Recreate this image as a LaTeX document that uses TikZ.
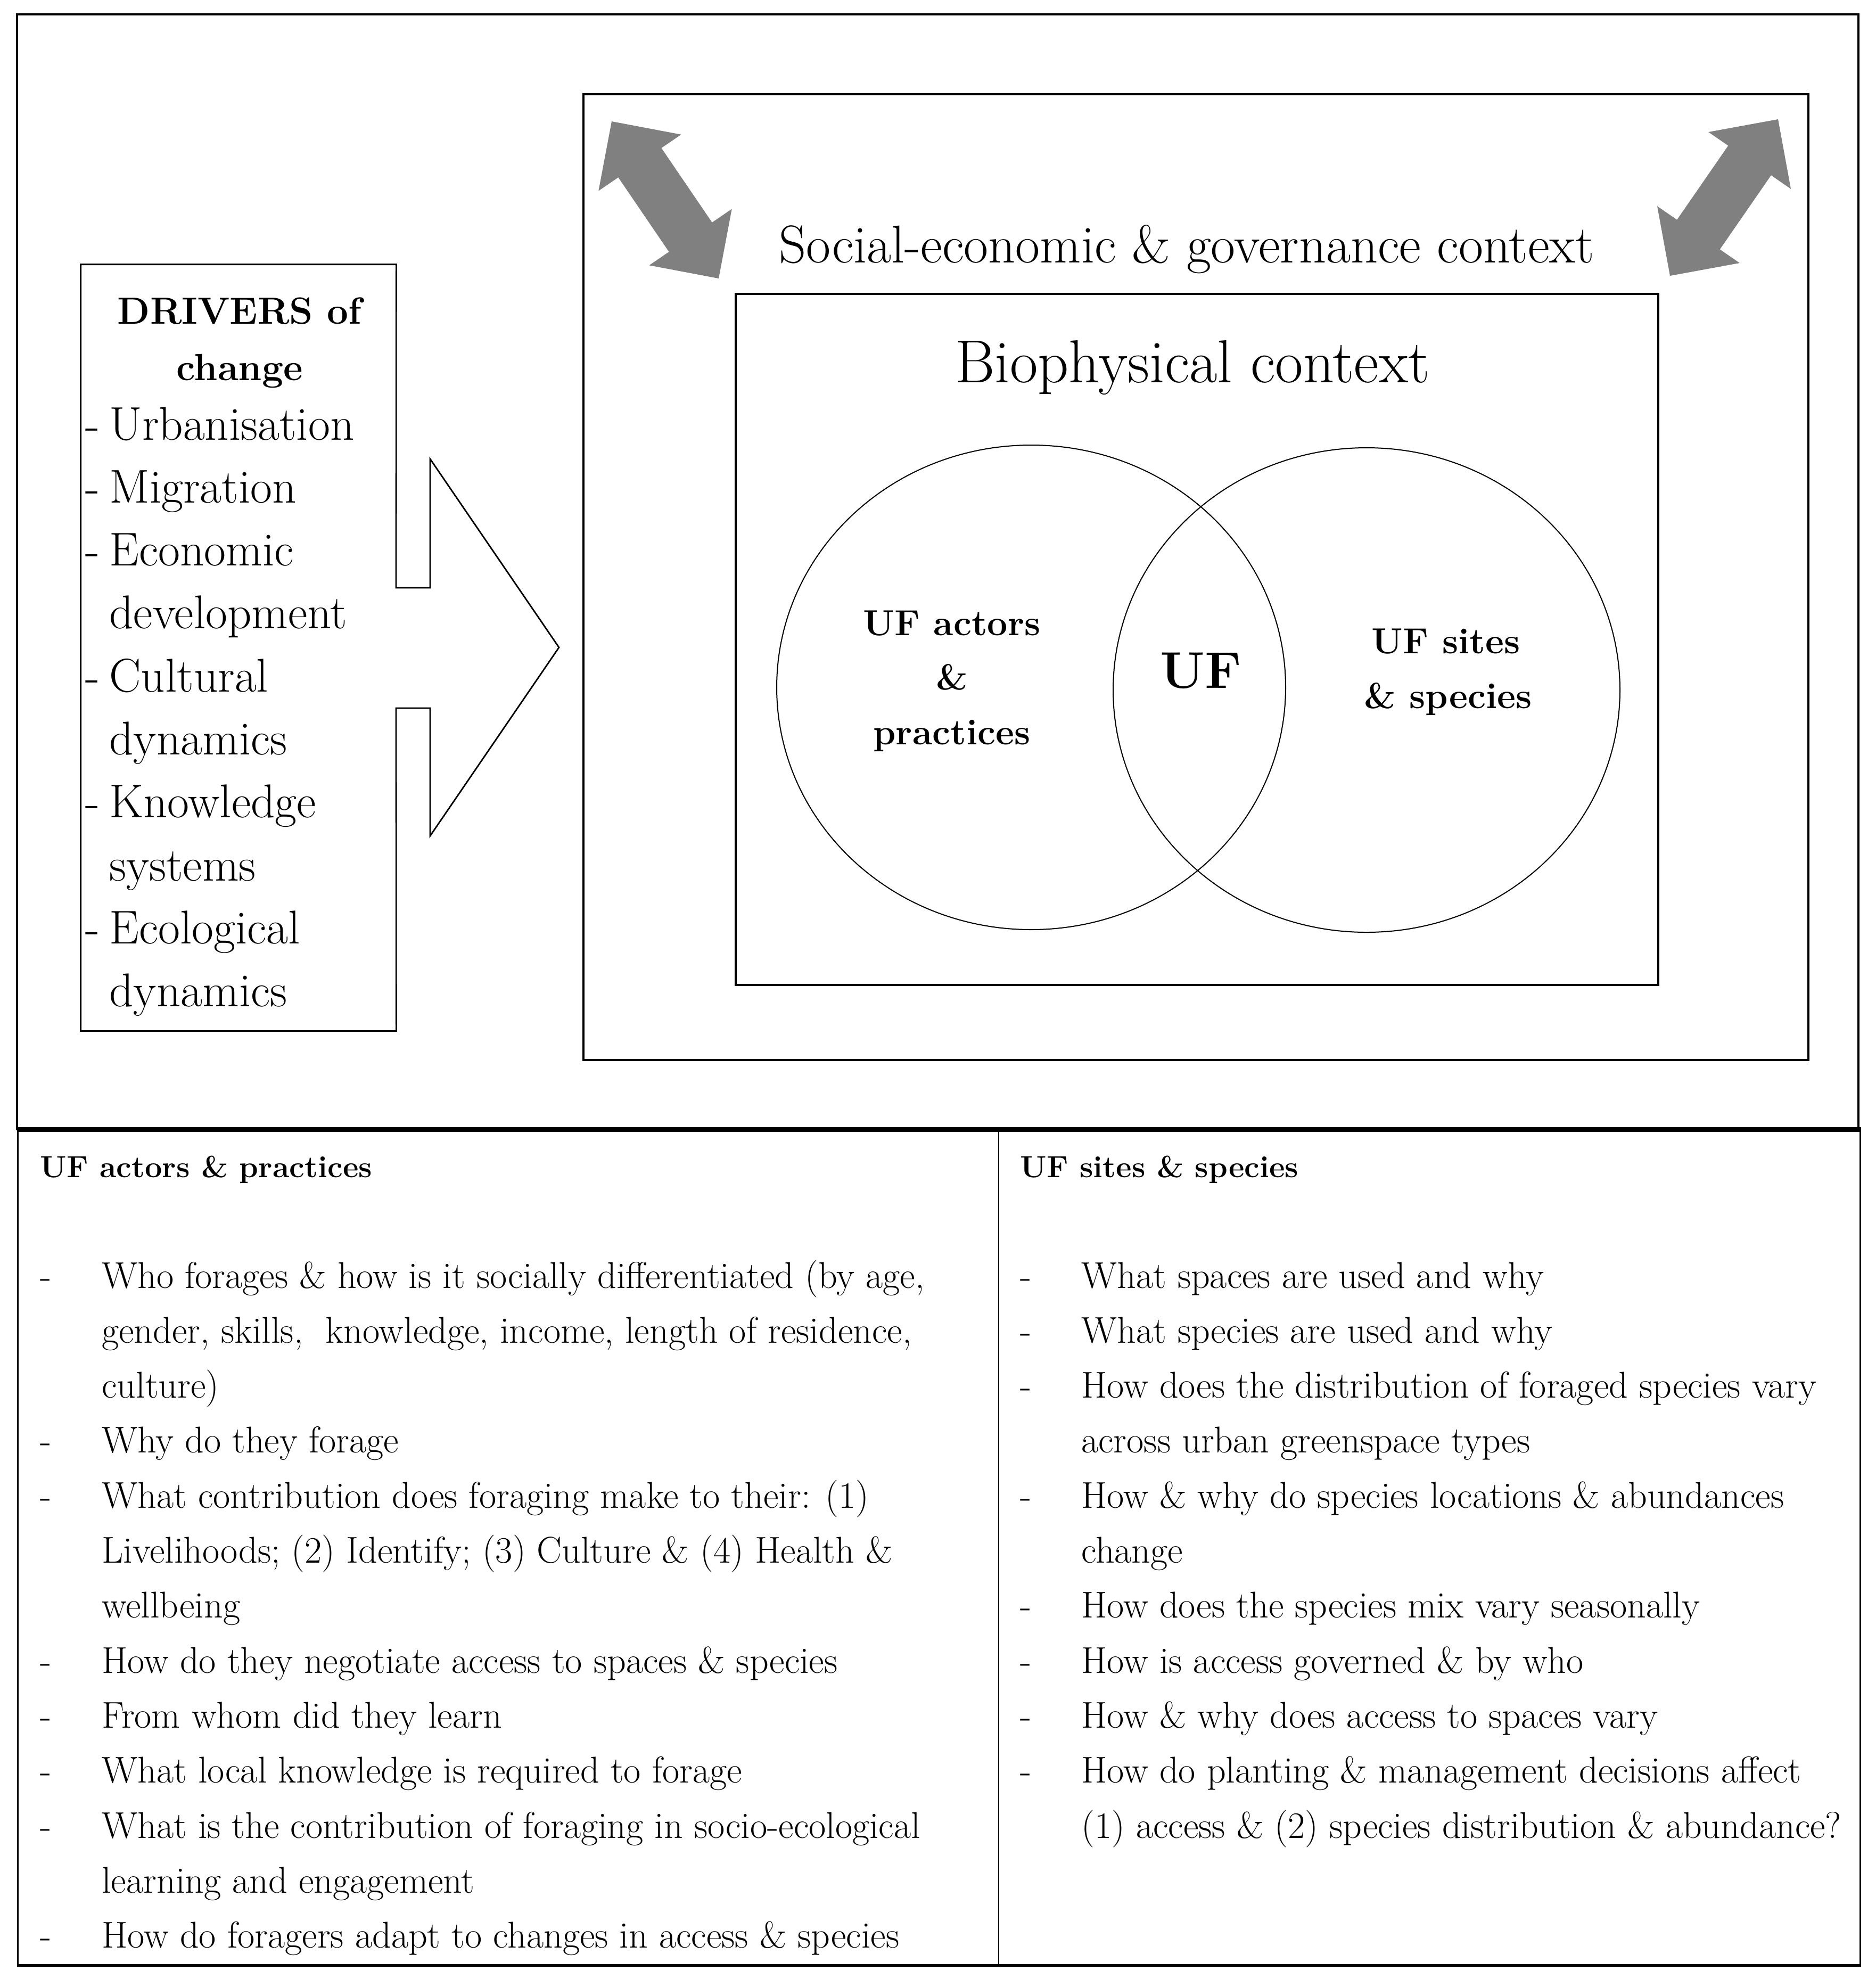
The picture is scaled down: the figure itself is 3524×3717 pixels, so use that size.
\documentclass[tikz,border=0pt]{standalone}
\usepackage{fontspec}
\usetikzlibrary{shapes.geometric,fit}
\newcommand\fzSocial{\fontsize{50}{60}\selectfont}
\newcommand\fzBio{\fontsize{57}{66}\selectfont}
\newcommand\fzCirc{\fontsize{34}{40}\selectfont\bfseries}
\newcommand\fzUF{\fontsize{48.5}{56}\selectfont\bfseries}
\newcommand\fzDrvT{\fontsize{35.5}{42}\selectfont\bfseries}
\newcommand\fzDrv{\fontsize{44.5}{52}\selectfont}
\newcommand\fzHead{\fontsize{28.7}{34}\selectfont\bfseries}
\newcommand\fzBody{\fontsize{35}{42}\selectfont}
\begin{document}
\begin{tikzpicture}[x=0.5pt,y=-0.5pt,
  frame/.style={draw=black, line width=#1, inner sep=0pt},
  frame/.default=2pt,
  lbl/.style={inner sep=0pt, anchor=base},
  lblw/.style={inner sep=0pt, anchor=base west},
  venn/.style={draw=black, line width=1pt, ellipse, inner sep=0pt, minimum width=478pt, minimum height=455pt},
  grey arrow/.style={fill=gray, draw=none}]
\fill[white] (0,0) rectangle (3524,3717);
\useasboundingbox (0,0) rectangle (3524,3717);

% ---- frames ----
\node[frame=2pt, fit={(32,27) (3491,2121)}] (outer) {};
\node[frame=2pt, fit={(1096,177) (3397,1991)}] (social) {};
\node[frame=2pt, fit={(1382,552) (3115,1850)}] (bio) {};
\node[inner sep=0pt, fit={(152,497) (744,1936)}] (drivers) {};

% ---- venn ----
\node[venn] (actors) at (1937,1291) {};
\node[venn, minimum width=476pt] (sites) at (2567,1296) {};

% ---- drivers box merged with the big outlined arrow ----
\draw[line width=1.4pt, line join=miter] (drivers.north west) -- (drivers.north east) -- (744,1104)
  -- (808,1104) -- (808,862) -- (1050,1216) -- (808,1570) -- (808,1330) -- (744,1330)
  -- (drivers.south east) -- (drivers.south west) -- cycle;

% ---- grey double arrows ----
\fill[grey arrow] (1149,228) -- (1279.5,252.7) -- (1242.4,278.0) -- (1337.6,417.8) -- (1374.7,392.5)
  -- (1350,523) -- (1219.5,498.3) -- (1256.6,473.0) -- (1161.4,333.2) -- (1124.3,358.5) -- cycle;
\fill[grey arrow] (3340,224) -- (3364.0,354.8) -- (3326.9,329.2) -- (3230.7,468.4) -- (3267.8,494.0)
  -- (3137,518) -- (3113.0,387.2) -- (3150.1,412.8) -- (3246.3,273.6) -- (3209.2,248.0) -- cycle;

% ---- top texts ----
\node[lbl, font=\fzSocial] (socialtxt) at (2229,493) {Social-economic \& governance context};
\node[lbl, font=\fzBio] (biotxt) at (2240,718) {Biophysical context};
\node[lbl, font=\fzCirc] (act1) at (1788,1193) {UF actors};
\node[lbl, font=\fzCirc] (act2) at (1788,1295) {\&};
\node[lbl, font=\fzCirc] (act3) at (1788,1398) {practices};
\node[lbl, font=\fzUF] (uf) at (2256,1292) {UF};
\node[lbl, font=\fzCirc] (site1) at (2716,1227) {UF sites};
\node[lbl, font=\fzCirc] (site2) at (2720,1330) {\& species};

% ---- drivers ----
\node[lbl, font=\fzDrvT] (drvt1) at (450,608) {DRIVERS of};
\node[lbl, font=\fzDrvT] (drvt2) at (450,714) {change};
\foreach \k/\d/\t in {0/-/Urbanisation, 1/-/Migration, 2/-/Economic, 3//development,
   4/-/Cultural, 5//dynamics, 6/-/Knowledge, 7//systems, 8/-/Ecological, 9//dynamics}{
  \node[lblw, font=\fzDrv] (drvd\k) at (160,826+\k*118.3) {\d};
  \node[lblw, font=\fzDrv] (drv\k) at (205,826+\k*118.3) {\t};
}

% ---- bottom table ----
\node[frame=1.5pt, fit={(33,2121) (3494,3690)}] (table) {};
\draw[line width=4.5pt] (32,2121) -- (3496,2121);
\draw[line width=2pt] (table.south west) -- (table.south east);
\draw[line width=1pt] (1876,2121) -- (1876,3690);

\node[lblw, font=\fzHead] (headL) at (75,2211) {UF actors \& practices};
\node[lblw, font=\fzHead] (headR) at (1916,2211) {UF sites \& species};

\begin{scope}[every node/.style={lblw, font=\fzBody}]
\node (ld0) at (75,2419+0*103.3) {-};
\node (l0) at (191,2419+0*103.3) {Who forages \& how is it socially differentiated (by age,};
\node (l1) at (191,2419+1*103.3) {gender, skills,\ \ knowledge, income, length of residence,};
\node (l2) at (191,2419+2*103.3) {culture)};
\node (ld3) at (75,2419+3*103.3) {-};
\node (l3) at (191,2419+3*103.3) {Why do they forage};
\node (ld4) at (75,2419+4*103.3) {-};
\node (l4) at (191,2419+4*103.3) {What contribution does foraging make to their: (1)};
\node (l5) at (191,2419+5*103.3) {Livelihoods; (2) Identify; (3) Culture \& (4) Health \&};
\node (l6) at (191,2419+6*103.3) {wellbeing};
\node (ld7) at (75,2419+7*103.3) {-};
\node (l7) at (191,2419+7*103.3) {How do they negotiate access to spaces \& species};
\node (ld8) at (75,2419+8*103.3) {-};
\node (l8) at (191,2419+8*103.3) {From whom did they learn};
\node (ld9) at (75,2419+9*103.3) {-};
\node (l9) at (191,2419+9*103.3) {What local knowledge is required to forage};
\node (ld10) at (75,2419+10*103.3) {-};
\node (l10) at (191,2419+10*103.3) {What is the contribution of foraging in socio-ecological};
\node (l11) at (191,2419+11*103.3) {learning and engagement};
\node (ld12) at (75,2419+12*103.3) {-};
\node (l12) at (191,2419+12*103.3) {How do foragers adapt to changes in access \& species};

\node (rd0) at (1916,2419+0*103.3) {-};
\node (r0) at (2031,2419+0*103.3) {What spaces are used and why};
\node (rd1) at (1916,2419+1*103.3) {-};
\node (r1) at (2031,2419+1*103.3) {What species are used and why};
\node (rd2) at (1916,2419+2*103.3) {-};
\node (r2) at (2031,2419+2*103.3) {How does the distribution of foraged species vary};
\node (r3) at (2031,2419+3*103.3) {across urban greenspace types};
\node (rd4) at (1916,2419+4*103.3) {-};
\node (r4) at (2031,2419+4*103.3) {How \& why do species locations \& abundances};
\node (r5) at (2031,2419+5*103.3) {change};
\node (rd6) at (1916,2419+6*103.3) {-};
\node (r6) at (2031,2419+6*103.3) {How does the species mix vary seasonally};
\node (rd7) at (1916,2419+7*103.3) {-};
\node (r7) at (2031,2419+7*103.3) {How is access governed \& by who};
\node (rd8) at (1916,2419+8*103.3) {-};
\node (r8) at (2031,2419+8*103.3) {How \& why does access to spaces vary};
\node (rd9) at (1916,2419+9*103.3) {-};
\node (r9) at (2031,2419+9*103.3) {How do planting \& management decisions affect};
\node (r10) at (2031,2419+10*103.3) {(1) access \& (2) species distribution \& abundance?};
\end{scope}
\end{tikzpicture}
\end{document}
